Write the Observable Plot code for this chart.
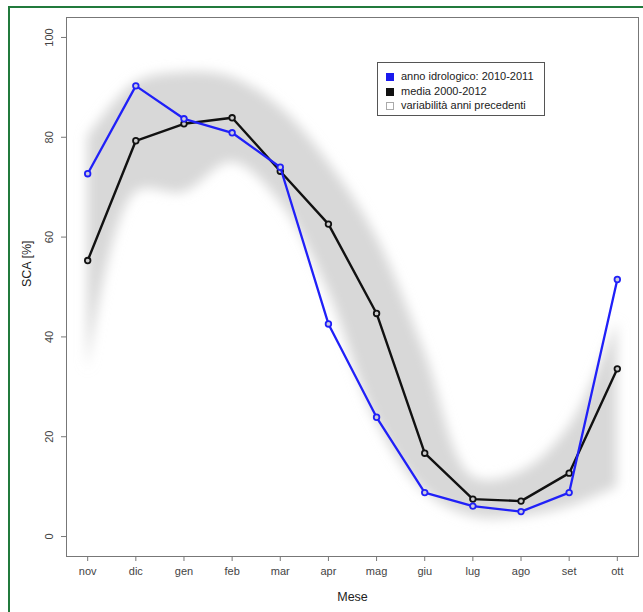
<!DOCTYPE html>
<html>
<head>
<meta charset="utf-8">
<script src="https://cdn.jsdelivr.net/npm/d3@7"></script>
<script src="https://cdn.jsdelivr.net/npm/@observablehq/plot@0.6"></script>
<style>
  html, body { margin: 0; padding: 0; background: #fff; }
  #wrap { position: relative; width: 643px; height: 612px; overflow: hidden;
          font-family: "Liberation Sans", Arial, sans-serif; }
  #border { position: absolute; left: 8px; top: 6px; width: 700px; height: 700px;
            border-left: 2px solid #217a3c; border-top: 2px solid #217a3c; pointer-events: none; }
  #legend { position: absolute; left: 377px; top: 62px; width: 168px; height: 54px;
            border: 1px solid #555; background: #fff; font-size: 11px; color: #222;
            box-sizing: border-box; padding-top: 6px; }
  #legend div { height: 14.5px; line-height: 14.5px; white-space: nowrap; padding-left: 8px; }
  #legend span.sw { display: inline-block; width: 8px; height: 8px; margin-right: 7px;
                    vertical-align: -1px; box-sizing: border-box; }
</style>
</head>
<body>
<div id="wrap">
  <div id="chart"></div>
  <div id="legend"></div>
  <div id="border"></div>
</div>
<script>
// Months of the hydrological year
const months = ["nov", "dic", "gen", "feb", "mar", "apr", "mag", "giu", "lug", "ago", "set", "ott"];
// Snow covered area (%) for the 2010-2011 hydrological year
const anno = [72.7, 90.3, 83.7, 80.9, 74.0, 42.6, 23.9, 8.8, 6.1, 5.0, 8.8, 51.5];
// Mean 2000-2012
const media = [55.3, 79.3, 82.7, 83.9, 73.2, 62.6, 44.7, 16.7, 7.5, 7.1, 12.7, 33.6];
// Range of previous years
const varMin = [33, 69, 69, 75, 67, 49, 23, 9, 4, 4, 6, 10];
const varMax = [80, 91, 93, 92, 86, 75, 60, 37, 12, 13, 22, 43];
const yTicks = [0, 20, 40, 60, 80, 100];

const seriesNames = ["anno idrologico: 2010-2011", "media 2000-2012", "variabilità anni precedenti"];

const rows = months.map((m, i) => ({
  i: i + 1, mese: m, anno: anno[i], media: media[i], lo: varMin[i], hi: varMax[i]
}));

const chart = Plot.plot({
  width: 643,
  height: 612,
  marginLeft: 66,
  marginRight: 5,
  marginTop: 17,
  marginBottom: 56,
  style: { fontFamily: "Liberation Sans, Arial, sans-serif", background: "transparent" },
  x: { type: "linear", domain: [0.56, 12.44], axis: null },
  y: { type: "linear", domain: [-4, 104], axis: null },
  marks: [
    Plot.areaY(rows, {
      x: "i", y1: "lo", y2: "hi", fill: "#d8d8d8", curve: "catmull-rom"
    }),
    Plot.frame({ stroke: "#777", strokeWidth: 1 }),
    // x axis
    Plot.axisX({
      ticks: months.map((m, i) => i + 1),
      tickFormat: d => months[d - 1],
      tickSize: 5, tickPadding: 6, fontSize: 11, color: "#444", stroke: "#777",
      label: null, anchor: "bottom"
    }),
    Plot.text(["Mese"], {
      frameAnchor: "bottom", dy: 44, text: d => d, fontSize: 12.5, fill: "#222"
    }),
    // y axis
    Plot.axisY({
      ticks: yTicks, tickSize: 5, tickPadding: 9, tickRotate: -90,
      fontSize: 11, color: "#444", stroke: "#777", label: null, anchor: "left"
    }),
    Plot.text(["SCA [%]"], {
      frameAnchor: "left", dx: -40, rotate: -90, text: d => d, fontSize: 12.5, fill: "#222"
    }),
    // mean line
    Plot.line(rows, { x: "i", y: "media", stroke: "#111", strokeWidth: 2.4 }),
    Plot.dot(rows, { x: "i", y: "media", r: 2.8, stroke: "#111", strokeWidth: 1.8, fill: "#ccc" }),
    // 2010-2011 line
    Plot.line(rows, { x: "i", y: "anno", stroke: "#2020f8", strokeWidth: 2.3 }),
    Plot.dot(rows, { x: "i", y: "anno", r: 2.8, stroke: "#2020f8", strokeWidth: 1.8, fill: "#ccd" })
  ]
});

// soften the variability band with a gaussian blur, clipped to the plot frame
const svg = d3.select(chart);
const defs = svg.insert("defs", ":first-child");
defs.append("filter").attr("id", "soft")
  .attr("x", "-20%").attr("y", "-20%").attr("width", "140%").attr("height", "140%")
  .append("feGaussianBlur").attr("stdDeviation", 6);
defs.append("clipPath").attr("id", "plotclip")
  .append("rect").attr("x", 66).attr("y", 17).attr("width", 643 - 66 - 5).attr("height", 612 - 17 - 56);
const bandGroup = svg.select("g[aria-label='area']");
bandGroup.attr("clip-path", "url(#plotclip)");
bandGroup.select("path").attr("filter", "url(#soft)");

document.getElementById("chart").appendChild(chart);

// legend
const swatches = [
  { fill: "#1a1aee", stroke: "#1a1aee" },
  { fill: "#111", stroke: "#111" },
  { fill: "#fff", stroke: "#aaa" }
];
const legend = d3.select("#legend");
seriesNames.forEach((name, i) => {
  const row = legend.append("div");
  row.append("span").attr("class", "sw")
    .style("background", swatches[i].fill)
    .style("border", `1px solid ${swatches[i].stroke}`);
  row.append("span").text(name);
});
</script>
</body>
</html>
